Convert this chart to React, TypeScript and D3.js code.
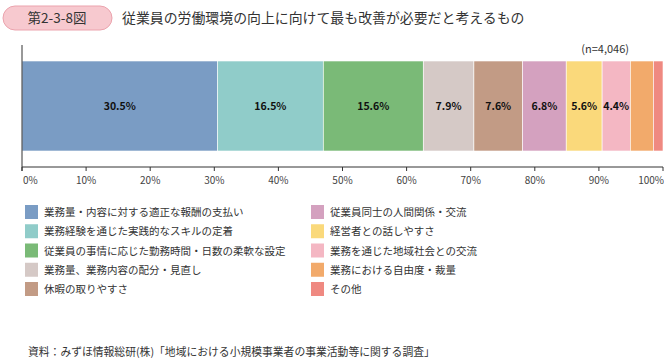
import React, { useEffect, useRef } from "react";
import * as d3 from "d3";

const categories = [
  "業務量・内容に対する適正な報酬の支払い",
  "業務経験を通じた実践的なスキルの定着",
  "従業員の事情に応じた勤務時間・日数の柔軟な設定",
  "業務量、業務内容の配分・見直し",
  "休暇の取りやすさ",
  "従業員同士の人間関係・交流",
  "経営者との話しやすさ",
  "業務を通じた地域社会との交流",
  "業務における自由度・裁量",
  "その他",
];
const values = [30.5, 16.5, 15.6, 7.9, 7.6, 6.8, 5.6, 4.4, 3.6, 1.5];
const colors = [
  "#7a9cc4",
  "#90ccc9",
  "#7aba77",
  "#d5c9c6",
  "#c29b85",
  "#d4a1bf",
  "#fad97b",
  "#f4b7c3",
  "#f2aa6b",
  "#ef8981",
];
const ticks = [0, 10, 20, 30, 40, 50, 60, 70, 80, 90, 100];

const FONT = "'Noto Sans CJK JP', 'Noto Sans', sans-serif";
const W = 664;
const H = 359;

const App = () => {
  const svgRef = useRef<SVGSVGElement>(null);

  useEffect(() => {
    const svg = d3.select(svgRef.current);
    svg.selectAll("*").remove();

    const x = d3.scaleLinear().domain([0, 100]).range([22, 663]);
    const barTop = 61;
    const barH = 90;

    // title pill
    svg
      .append("rect")
      .attr("x", 3)
      .attr("y", 6)
      .attr("width", 109)
      .attr("height", 24)
      .attr("rx", 12)
      .attr("fill", "#f7c9cf")
      .attr("stroke", "#eba3ad")
      .attr("stroke-width", 1);
    svg
      .append("text")
      .attr("x", 57)
      .attr("y", 23)
      .attr("text-anchor", "middle")
      .attr("font-size", 13.5)
      .attr("fill", "#333")
      .text("第2-3-8図");
    svg
      .append("text")
      .attr("x", 122)
      .attr("y", 23)
      .attr("font-size", 13.9)
      .attr("fill", "#333")
      .text("従業員の労働環境の向上に向けて最も改善が必要だと考えるもの");

    svg
      .append("text")
      .attr("x", 629)
      .attr("y", 53)
      .attr("text-anchor", "end")
      .attr("font-size", 11)
      .attr("fill", "#333")
      .text("(n=4,046)");

    // stacked segments
    const starts = d3.cumsum([0, ...values.slice(0, -1)]);
    const seg = svg
      .append("g")
      .selectAll("g")
      .data(values)
      .join("g");
    seg
      .append("rect")
      .attr("x", (d, i) => x(starts[i]))
      .attr("y", barTop)
      .attr("width", (d) => x(d) - x(0))
      .attr("height", barH)
      .attr("fill", (d, i) => colors[i])
      .attr("stroke", "#fff")
      .attr("stroke-width", 0.6);
    seg
      .filter((d) => d >= 4)
      .append("text")
      .attr("x", (d, i) => x(starts[i] + d / 2))
      .attr("y", barTop + barH / 2 + 4)
      .attr("text-anchor", "middle")
      .attr("font-size", 10.5)
      .attr("font-weight", "bold")
      .attr("fill", "#111")
      .text((d) => d.toFixed(1) + "%");

    // axes
    const axY = 167;
    svg
      .append("line")
      .attr("x1", x(0))
      .attr("x2", x(0))
      .attr("y1", 45)
      .attr("y2", axY + 4)
      .attr("stroke", "#333")
      .attr("stroke-width", 1);
    svg
      .append("line")
      .attr("x1", x(0))
      .attr("x2", x(100))
      .attr("y1", axY)
      .attr("y2", axY)
      .attr("stroke", "#333")
      .attr("stroke-width", 1);
    const tg = svg.append("g").selectAll("g").data(ticks).join("g");
    tg.append("line")
      .attr("x1", (d) => x(d))
      .attr("x2", (d) => x(d))
      .attr("y1", axY)
      .attr("y2", axY + 4)
      .attr("stroke", "#333");
    tg.append("text")
      .attr("x", (d) => (d === 0 ? x(d) + 1 : d === 100 ? x(d) + 1 : x(d)))
      .attr("y", axY + 17)
      .attr("text-anchor", (d) =>
        d === 0 ? "start" : d === 100 ? "end" : "middle"
      )
      .attr("font-size", 10)
      .attr("fill", "#444")
      .text((d) => d + "%");

    // legend
    const rowY = d3
      .scalePoint<number>()
      .domain(d3.range(5))
      .range([212, 289]);
    const lg = svg
      .append("g")
      .selectAll("g")
      .data(categories)
      .join("g")
      .attr(
        "transform",
        (d, i) => `translate(${i < 5 ? 25 : 311},${rowY(i % 5)})`
      );
    lg.append("rect")
      .attr("x", 0)
      .attr("y", -7)
      .attr("width", 13)
      .attr("height", 14)
      .attr("fill", (d, i) => colors[i]);
    lg.append("text")
      .attr("x", 19)
      .attr("y", 4)
      .attr("font-size", 10.5)
      .attr("fill", "#333")
      .text((d) => d);

    svg
      .append("text")
      .attr("x", 28)
      .attr("y", 356)
      .attr("font-size", 10.8)
      .attr("fill", "#333")
      .text(
        "資料：みずほ情報総研(株)「地域における小規模事業者の事業活動等に関する調査」"
      );
  }, []);

  return (
    <svg
      ref={svgRef}
      width={W}
      height={H}
      style={{ position: "absolute", left: 0, top: 0, fontFamily: FONT, background: "#fff" }}
    />
  );
};

export default App;
